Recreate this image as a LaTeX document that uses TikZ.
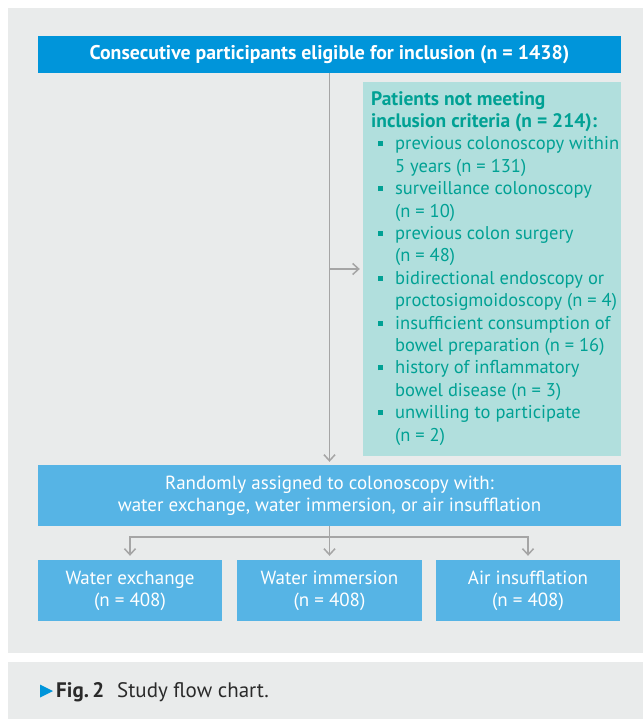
\documentclass[tikz,border=0pt]{standalone}
\usepackage{fontspec}
\setmainfont{PT Sans}
\usetikzlibrary{arrows.meta}
\definecolor{panelgray}{HTML}{E9EBEB}
\definecolor{topblue}{HTML}{0095DA}
\definecolor{lightblue}{HTML}{56B4E5}
\definecolor{sidebox}{HTML}{B1DFDD}
\definecolor{tealtext}{HTML}{00A194}
\definecolor{arrowgray}{HTML}{A5A5A5}
\definecolor{captext}{HTML}{2A2A2A}
\newcommand{\bul}{\makebox[24pt][l]{\hspace{7pt}\raisebox{3.5pt}{\rule{5pt}{5pt}}}}
\newcommand{\ind}{\hspace*{24pt}}
\newcommand{\bfside}{\fontsize{19.5}{22.4}\selectfont\bfseries}
\begin{document}
\begin{tikzpicture}[x=1pt,y=-1pt,
  boxtext/.style={font=\fontsize{19}{22}\selectfont, text=white, align=center, inner sep=0pt},
  conn/.style={draw=arrowgray, line width=1.8pt},
  arr/.style={conn, -{Straight Barb[length=6pt,width=11pt,line width=1.5pt]}, shorten >=3pt}
]
\useasboundingbox (0,0) rectangle (643,719);
\fill[white] (0,0) rectangle (643,719);
\fill[panelgray] (8,8) rectangle (643,653);
\fill[panelgray] (8,662) rectangle (643,719);

% boxes
\node[boxtext, fill=topblue, minimum width=583pt, minimum height=37pt, font=\fontsize{19.8}{22}\selectfont\bfseries] (top) at (329.5,54.5) {Consecutive participants eligible for inclusion (n = 1438)};

\node[fill=sidebox, minimum width=258pt, minimum height=374pt, inner sep=0pt] (excl) at (492,269) {};
\node[anchor=north west, align=left, inner sep=0pt, text=tealtext, font=\fontsize{18.5}{22.4}\selectfont] (excltext) at (371,91) {%
{\bfside Patients not meeting}\\
{\bfside inclusion criteria (n = 214):}\\
\bul previous colonoscopy within\\
\ind 5 years (n = 131)\\
\bul surveillance colonoscopy\\
\ind (n = 10)\\
\bul previous colon surgery\\
\ind (n = 48)\\
\bul bidirectional endoscopy or\\
\ind proctosigmoidoscopy (n = 4)\\
\bul insufficient consumption of\\
\ind bowel preparation (n = 16)\\
\bul history of inflammatory\\
\ind bowel disease (n = 3)\\
\bul unwilling to participate\\
\ind (n = 2)};

\node[boxtext, fill=lightblue, minimum width=583pt, minimum height=61pt] (rand) at (329.5,495.5) {Randomly assigned to colonoscopy with:\\water exchange, water immersion, or air insufflation};

\node[boxtext, fill=lightblue, minimum width=184pt, minimum height=61pt] (b1) at (130,590.5) {Water exchange\\(n = 408)};
\node[boxtext, fill=lightblue, minimum width=185pt, minimum height=61pt] (b2) at (329.5,590.5) {Water immersion\\(n = 408)};
\node[boxtext, fill=lightblue, minimum width=184pt, minimum height=61pt] (b3) at (528,590.5) {Air insufflation\\(n = 408)};

% connectors
\draw[arr] (top.south) -- (rand.north);
\coordinate (sidept) at (top.south |- excl.west);
\draw[arr] (sidept) -- (excl.west);
\coordinate (split) at (329.5,537);
\draw[conn] (rand.south) -- (split);
\draw[arr, shorten >=4pt] (split) -| (b1.north);
\draw[arr, shorten >=4pt] (split) -- (b2.north);
\draw[arr, shorten >=4pt] (split) -| (b3.north);

% caption
\fill[topblue] (40,684.5) -- (53,691) -- (40,697.5) -- cycle;
\node[anchor=base west, inner sep=0pt, text=captext, font=\fontsize{21}{24}\selectfont\bfseries] (fig) at (56,697) {Fig.\,2};
\node[anchor=base west, inner sep=0pt, text=captext, font=\fontsize{21}{24}\selectfont] (captxt) at (117,697) {Study flow chart.};
\end{tikzpicture}
\end{document}
